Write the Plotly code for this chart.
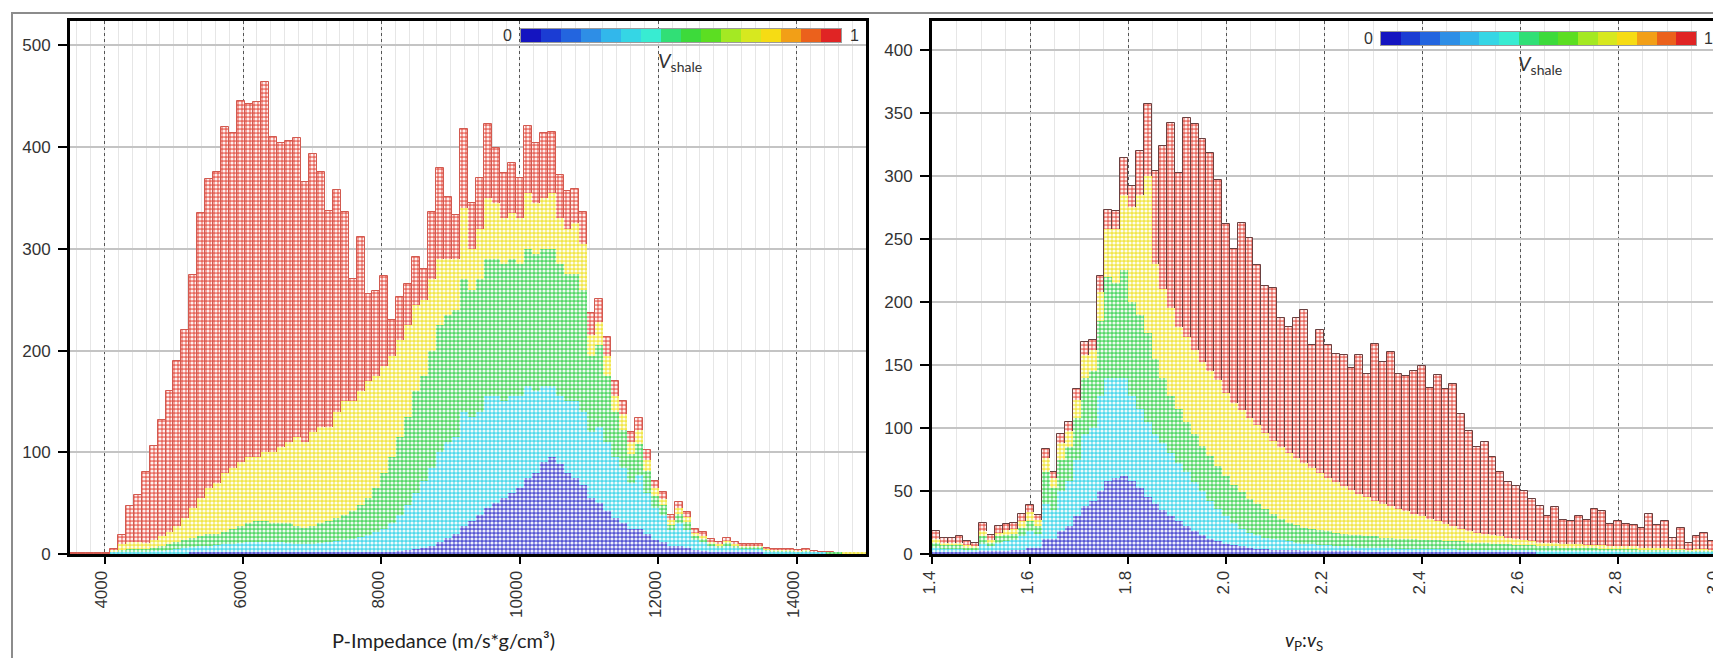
import plotly.graph_objects as go

W, H = 1721, 658

# ---------------- Left panel: P-Impedance histogram (counts per bin, stacked by Vshale) -------------
imp_start = 3500
imp_width = 115
imp_ticks = [4000, 6000, 8000, 10000, 12000, 14000]
imp_total = [
    1, 1, 1, 1, 1, 5, 19, 47, 58, 81,
    106, 132, 160, 190, 220, 274, 335, 369, 376, 420,
    414, 445, 442, 444, 464, 410, 404, 406, 409, 366,
    393, 376, 337, 358, 336, 270, 312, 256, 259, 273,
    230, 253, 265, 292, 280, 336, 379, 351, 333, 418,
    345, 370, 423, 399, 375, 384, 370, 421, 404, 414,
    415, 373, 357, 359, 336, 237, 251, 213, 170, 150,
    120, 134, 102, 72, 61, 38, 51, 41, 25, 22,
    15, 12, 16, 12, 10, 10, 10, 6, 5, 5,
    5, 4, 5, 3, 2, 2, 1, 1, 1, 1]
imp_yellow_top = [
    0, 0, 0, 0, 0, 4, 10, 12, 12, 11,
    14, 18, 22, 28, 35, 45, 55, 65, 70, 80,
    85, 90, 95, 95, 100, 100, 105, 110, 115, 110,
    120, 125, 125, 140, 150, 150, 160, 170, 175, 185,
    195, 210, 225, 245, 250, 270, 290, 290, 290, 340,
    300, 320, 350, 345, 330, 335, 330, 355, 345, 350,
    355, 330, 320, 325, 305, 215, 228, 195, 155, 138,
    110, 122, 92, 65, 54, 33, 45, 36, 21, 18,
    12, 10, 13, 10, 8, 8, 8, 5, 4, 4,
    4, 3, 4, 2, 2, 1, 1, 1, 1, 1]
imp_green_top = [
    0, 0, 0, 0, 0, 2, 4, 5, 5, 5,
    6, 8, 10, 12, 14, 16, 18, 20, 20, 22,
    25, 28, 30, 32, 32, 30, 30, 30, 28, 26,
    28, 30, 32, 35, 38, 42, 48, 55, 65, 80,
    95, 115, 135, 160, 175, 200, 225, 235, 240, 270,
    260, 270, 290, 290, 285, 290, 285, 300, 295, 300,
    300, 285, 275, 275, 260, 195, 205, 175, 140, 122,
    98, 108, 82, 57, 48, 29, 39, 31, 18, 15,
    10, 8, 11, 8, 7, 7, 7, 4, 3, 3,
    3, 2, 3, 2, 1, 1, 1, 0, 0, 0]
imp_cyan_top = [
    0, 0, 0, 0, 0, 1, 2, 2, 2, 2,
    3, 3, 4, 5, 6, 7, 8, 8, 9, 10,
    10, 11, 12, 12, 12, 12, 12, 11, 10, 10,
    10, 11, 12, 13, 14, 15, 17, 19, 22, 25,
    30, 38, 48, 60, 72, 85, 100, 110, 115, 140,
    135, 140, 155, 155, 150, 155, 155, 165, 160, 165,
    165, 155, 150, 150, 140, 120, 125, 110, 95, 85,
    70, 78, 60, 45, 38, 24, 30, 24, 14, 12,
    8, 6, 8, 6, 5, 5, 5, 3, 2, 2,
    2, 1, 2, 1, 1, 0, 0, 0, 0, 0]
imp_blue_top = [
    0, 0, 0, 0, 0, 0, 0, 0, 0, 0,
    0, 0, 0, 0, 0, 1, 1, 1, 1, 1,
    1, 1, 1, 1, 1, 1, 1, 1, 1, 1,
    1, 1, 1, 1, 1, 1, 1, 1, 1, 1,
    2, 3, 4, 5, 6, 8, 12, 16, 20, 28,
    32, 38, 45, 50, 55, 60, 65, 75, 80, 90,
    95, 88, 80, 75, 68, 55, 50, 42, 35, 30,
    25, 25, 20, 14, 12, 8, 8, 6, 4, 3,
    2, 1, 2, 1, 1, 1, 1, 0, 0, 0,
    0, 0, 0, 0, 0, 0, 0, 0, 0, 0]
imp_yticks = [0, 100, 200, 300, 400, 500]

# ---------------- Right panel: vP:vS histogram -------------
vpvs_start = 1.4
vpvs_width = 0.016
vpvs_ticks = [1.4, 1.6, 1.8, 2.0, 2.2, 2.4, 2.6, 2.8, 3.0]
vpvs_ticktext = ["1.4", "1.6", "1.8", "2.0", "2.2", "2.4", "2.6", "2.8", "3.0"]
vpvs_total = [
    18, 13, 13, 14, 10, 9, 25, 15, 22, 24,
    25, 32, 39, 31, 83, 65, 95, 105, 131, 168,
    170, 221, 273, 272, 314, 292, 320, 357, 304, 324,
    342, 302, 346, 341, 329, 318, 297, 262, 242, 263,
    251, 229, 213, 211, 187, 180, 187, 194, 166, 178,
    166, 159, 158, 148, 158, 143, 167, 152, 160, 143,
    141, 145, 149, 132, 142, 131, 135, 111, 98, 85,
    89, 77, 65, 57, 54, 50, 44, 38, 30, 37,
    27, 26, 30, 27, 36, 34, 24, 26, 24, 23,
    21, 32, 23, 26, 13, 21, 9, 14, 17, 10]
vpvs_yellow_top = [
    12, 9, 9, 9, 7, 6, 18, 11, 17, 19,
    20, 26, 33, 27, 76, 60, 88, 98, 122, 158,
    162, 208, 258, 258, 285, 275, 285, 300, 230, 210,
    195, 180, 172, 162, 152, 145, 138, 128, 120, 114,
    108, 102, 96, 90, 85, 80, 76, 72, 68, 64,
    60, 57, 54, 51, 48, 45, 42, 40, 38, 36,
    34, 32, 30, 28, 26, 24, 22, 20, 18, 17,
    16, 15, 14, 13, 12, 11, 10, 9, 9, 9,
    8, 8, 8, 7, 7, 7, 6, 6, 6, 6,
    5, 5, 5, 5, 4, 4, 3, 4, 4, 3]
vpvs_green_top = [
    9, 7, 7, 7, 5, 5, 14, 9, 14, 15,
    16, 21, 26, 22, 65, 52, 75, 85, 108, 140,
    145, 185, 220, 215, 225, 200, 190, 175, 155, 140,
    125, 115, 105, 95, 86, 78, 70, 62, 55, 49,
    44, 40, 36, 32, 28, 25, 23, 21, 20, 19,
    18, 17, 16, 15, 15, 14, 14, 13, 13, 12,
    12, 12, 11, 11, 11, 10, 10, 10, 9, 9,
    9, 8, 8, 8, 7, 7, 7, 6, 6, 6,
    5, 5, 5, 5, 5, 4, 4, 4, 4, 4,
    3, 3, 3, 3, 3, 3, 2, 2, 2, 2]
vpvs_cyan_top = [
    5, 4, 4, 4, 3, 3, 8, 6, 9, 10,
    11, 14, 18, 16, 40, 35, 50, 58, 75, 95,
    100, 125, 140, 140, 140, 125, 115, 105, 95, 88,
    80, 72, 65, 57, 50, 42, 36, 30, 25, 20,
    17, 15, 13, 12, 11, 10, 9, 8, 8, 7,
    7, 6, 6, 6, 5, 5, 5, 5, 5, 4,
    4, 4, 4, 4, 4, 4, 4, 3, 3, 3,
    3, 3, 3, 3, 3, 3, 3, 2, 2, 2,
    2, 2, 2, 2, 2, 2, 2, 2, 1, 1,
    1, 1, 1, 1, 1, 1, 1, 1, 1, 1]
vpvs_blue_top = [
    1, 1, 1, 1, 1, 1, 2, 2, 2, 2,
    3, 3, 5, 5, 12, 12, 18, 22, 30, 38,
    42, 50, 58, 60, 62, 58, 52, 45, 40, 35,
    30, 26, 22, 18, 15, 12, 10, 8, 7, 6,
    5, 4, 4, 3, 3, 3, 3, 2, 2, 2,
    2, 2, 2, 2, 2, 1, 1, 1, 1, 1,
    1, 1, 1, 1, 1, 1, 1, 1, 1, 1,
    1, 1, 1, 1, 1, 1, 1, 0, 0, 0,
    0, 0, 0, 0, 0, 0, 0, 0, 0, 0,
    0, 0, 0, 0, 0, 0, 0, 0, 0, 0]
vpvs_yticks = [0, 50, 100, 150, 200, 250, 300, 350, 400]

# Vshale colour classes (high Vshale on top)
class_colors = ["#e9695f", "#f1e64a", "#55d868", "#4fd9ea", "#5656d4"]
vshale_steps = [i / 15 for i in range(16)]
vshale_scale = [[0.0, "#1414c0"], [0.1, "#1e50dc"], [0.2, "#2e8ee6"], [0.3, "#34cbee"],
                [0.4, "#38ecd2"], [0.5, "#2ed848"], [0.6, "#5cde22"], [0.7, "#c8ee24"],
                [0.8, "#f6dc14"], [0.9, "#f08018"], [1.0, "#e02424"]]


def py(p):
    return 1 - p / H


fig = go.Figure()


def add_panel(start, width, layers, xa, ya, outline):
    centers = [start + width * (i + 0.5) for i in range(len(layers[0]))]
    for k, (arr, col) in enumerate(zip(layers, class_colors)):
        fig.add_trace(go.Bar(
            x=centers, y=arr, width=width, xaxis=xa, yaxis=ya,
            marker=dict(color=col,
                        line=dict(color=outline if k == 0 else col, width=1 if k == 0 else 0),
                        pattern=dict(shape=".", fgcolor="white", fgopacity=0.9,
                                     size=4, solidity=0.5)),
            hoverinfo="skip", showlegend=False))


add_panel(imp_start, imp_width,
          [imp_total, imp_yellow_top, imp_green_top, imp_cyan_top, imp_blue_top],
          "x", "y", "#d25a50")
add_panel(vpvs_start, vpvs_width,
          [vpvs_total, vpvs_yellow_top, vpvs_green_top, vpvs_cyan_top, vpvs_blue_top],
          "x2", "y2", "#6a4040")

# colour scale strips
for xa, ya in (("x3", "y3"), ("x4", "y4")):
    fig.add_trace(go.Heatmap(z=[vshale_steps], colorscale=vshale_scale, zmin=0, zmax=1,
                             showscale=False, xaxis=xa, yaxis=ya, hoverinfo="skip"))

tickfont = dict(family="Liberation Sans, Arial", size=17, color="#333333")
common_x = dict(ticks="outside", ticklen=7, tickwidth=2, tickcolor="black",
                showline=True, linewidth=3, linecolor="black", mirror=True,
                showgrid=True, gridcolor="#555555", griddash="dot", gridwidth=1,
                zeroline=False, tickangle=-90, tickfont=tickfont, automargin=False,
                ticklabeloverflow="allow", ticklabelshift=-3)
common_y = dict(ticks="outside", ticklen=9, tickwidth=2, tickcolor="black",
                showline=True, linewidth=3, linecolor="black", mirror=True,
                showgrid=True, gridcolor="#c4c4c4", gridwidth=1.5,
                zeroline=False, tickfont=tickfont, ticklabelstandoff=4, automargin=False,
                ticklabeloverflow="allow")
bar_axis = dict(showgrid=False, showticklabels=False, ticks="", zeroline=False,
                showline=True, linecolor="#9a9a9a", linewidth=1, mirror=True,
                fixedrange=True, automargin=False)

fig.update_layout(
    width=W, height=H,
    margin=dict(l=0, r=0, t=0, b=0, autoexpand=False),
    paper_bgcolor="white", plot_bgcolor="white",
    barmode="overlay", bargap=0,
    xaxis=dict(common_x, domain=[62 / W, 858 / W], range=[3500, 15000], anchor="y",
               tickmode="array", tickvals=imp_ticks, ticktext=[str(t) for t in imp_ticks],
               minor=dict(dtick=200, showgrid=True, gridcolor="#e6e6e6", gridwidth=1,
                          griddash="solid")),
    yaxis=dict(common_y, domain=[py(546), py(13)], range=[0, 524], anchor="x",
               tickmode="array", tickvals=imp_yticks, ticktext=[str(t) for t in imp_yticks]),
    xaxis2=dict(common_x, domain=[924 / W, 1709 / W], range=[1.4, 3.002], anchor="y2",
                tickmode="array", tickvals=vpvs_ticks, ticktext=vpvs_ticktext,
                minor=dict(dtick=0.05, showgrid=True, gridcolor="#e6e6e6", gridwidth=1,
                           griddash="solid")),
    yaxis2=dict(common_y, domain=[py(546), py(13)], range=[0, 423], anchor="x2",
                tickmode="array", tickvals=vpvs_yticks, ticktext=[str(t) for t in vpvs_yticks]),
    xaxis3=dict(bar_axis, domain=[513 / W, 833 / W], anchor="y3"),
    yaxis3=dict(bar_axis, domain=[py(34), py(21)], anchor="x3"),
    xaxis4=dict(bar_axis, domain=[1373 / W, 1688 / W], anchor="y4"),
    yaxis4=dict(bar_axis, domain=[py(37), py(24)], anchor="x4"),
)

lab = dict(family="Liberation Sans, Arial", size=16, color="#333333")
ann = [
    dict(x=435 / W, y=py(632), text="P-Impedance (m/s*g/cm³)",
         font=dict(family="Lato", size=20, color="#222222")),
    dict(x=1296 / W, y=py(633), text="<i>v</i><sub>P</sub>:<i>v</i><sub>S</sub>",
         font=dict(family="Lato", size=19, color="#222222")),
    dict(x=500 / W, y=py(27), text="0", font=lab),
    dict(x=846 / W, y=py(27), text="1", font=lab),
    dict(x=672 / W, y=py(53), text="<i>V</i><sub>shale</sub>",
         font=dict(family="Lato", size=20, color="#333333")),
    dict(x=1360 / W, y=py(30), text="0", font=lab),
    dict(x=1700 / W, y=py(30), text="1", font=lab),
    dict(x=1532 / W, y=py(56), text="<i>V</i><sub>shale</sub>",
         font=dict(family="Lato", size=20, color="#333333")),
]
for a in ann:
    fig.add_annotation(xref="paper", yref="paper", xanchor="center", yanchor="middle",
                       showarrow=False, **a)

fig.add_shape(type="rect", xref="paper", yref="paper", x0=4 / W, x1=1, y0=py(657), y1=py(5),
              line=dict(color="#8c8c8c", width=2), layer="above")

fig.write_html("out.html")
